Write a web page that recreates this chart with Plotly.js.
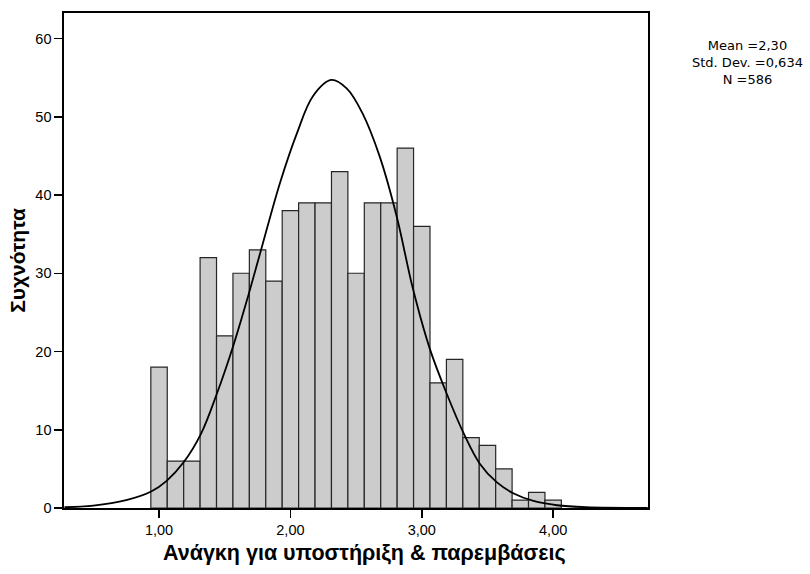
<!DOCTYPE html>
<html>
<head>
<meta charset="utf-8">
<script src="https://cdn.plot.ly/plotly-3.0.1.min.js"></script>
<style>
  html, body { margin: 0; padding: 0; background: #ffffff; }
  #chart { width: 810px; height: 574px; }
</style>
</head>
<body>
<div id="chart"></div>
<script>
// Histogram bins (bin centres, width 0.125) and frequencies
const binCenters = [1.000, 1.125, 1.250, 1.375, 1.500, 1.625, 1.750, 1.875, 2.000, 2.125,
                    2.250, 2.375, 2.500, 2.625, 2.750, 2.875, 3.000, 3.125, 3.250, 3.375,
                    3.500, 3.625, 3.750, 3.875, 4.000];
const frequencies = [18, 6, 6, 32, 22, 30, 33, 29, 38, 39,
                     39, 43, 30, 39, 39, 46, 36, 16, 19, 9,
                     8, 5, 1, 2, 1];
const binWidth = 0.125;

// Normal curve
const curveX = [0.28, 0.50, 0.75, 0.94, 1.06, 1.19, 1.32, 1.44, 1.57, 1.68,
                1.79, 1.92, 2.05, 2.17, 2.31, 2.43, 2.55, 2.68, 2.81, 2.93,
                3.06, 3.19, 3.32, 3.44, 3.57, 3.70, 3.85, 4.03, 4.25, 4.72];
const curveY = [0.1, 0.3, 1.0, 2.1, 3.5, 5.9, 9.5, 14.6, 21.0, 27.2,
                33.8, 41.5, 47.9, 52.6, 54.7, 53.6, 50.4, 44.9, 37.2, 28.2,
                20.4, 14.6, 9.5, 5.7, 3.3, 1.85, 0.9, 0.35, 0.1, 0.0];

// Tick labels
const xTickVals = [1, 2, 3, 4];
const xTickText = ["1,00", "2,00", "3,00", "4,00"];
const yTickVals = [0, 10, 20, 30, 40, 50, 60];
const yTickText = ["0", "10", "20", "30", "40", "50", "60"];

// Texts
const xTitle = "Ανάγκη για υποστήριξη & παρεμβάσεις";
const yTitle = "Συχνότητα";
const statsLines = ["Mean =2,30", "Std. Dev. =0,634", "N =586"];

const tickFont = { family: "Liberation Sans, Arial, sans-serif", size: 14.5, color: "#000000" };

const traces = [
  {
    type: "bar",
    x: binCenters,
    y: frequencies,
    width: binCenters.map(() => binWidth),
    marker: { color: "#cccccc", line: { color: "#262626", width: 1.2 } },
    hoverinfo: "skip",
    showlegend: false
  },
  {
    type: "scatter",
    mode: "lines",
    x: curveX,
    y: curveY,
    line: { color: "#000000", width: 1.8, shape: "spline", smoothing: 1 },
    hoverinfo: "skip",
    showlegend: false
  }
];

const annotations = [
  {
    text: statsLines.join("<br>"),
    xref: "paper", yref: "paper",
    x: 1.171, y: 0.899,
    xanchor: "center", yanchor: "middle", align: "center",
    showarrow: false,
    font: { family: "DejaVu Sans, sans-serif", size: 13, color: "#000000" }
  },
  {
    text: "<b>" + xTitle + "</b>",
    xref: "paper", yref: "paper",
    x: 0.5154, y: -0.0916,
    xanchor: "center", yanchor: "middle",
    showarrow: false,
    font: { family: "Liberation Sans, Arial, sans-serif", size: 21.5, color: "#000000" }
  }
];

const layout = {
  width: 810,
  height: 574,
  margin: { l: 64, r: 162, t: 13, b: 66, pad: 0 },
  paper_bgcolor: "#ffffff",
  plot_bgcolor: "#ffffff",
  showlegend: false,
  bargap: 0,
  xaxis: {
    range: [0.2765, 4.722],
    tickmode: "array",
    tickvals: xTickVals,
    ticktext: xTickText,
    ticks: "outside",
    ticklen: 8,
    tickwidth: 1.5,
    tickcolor: "#000000",
    showline: true,
    linecolor: "#000000",
    linewidth: 1.6,
    mirror: true,
    showgrid: false,
    zeroline: false,
    tickfont: tickFont
  },
  yaxis: {
    range: [0, 63.26],
    tickmode: "array",
    tickvals: yTickVals,
    ticktext: yTickText,
    ticks: "outside",
    ticklen: 8,
    tickwidth: 1.5,
    tickcolor: "#000000",
    showline: true,
    linecolor: "#000000",
    linewidth: 1.6,
    mirror: true,
    showgrid: false,
    zeroline: false,
    tickfont: tickFont,
    title: { text: "<b>" + yTitle + "</b>",
             font: { family: "Liberation Sans, Arial, sans-serif", size: 21, color: "#000000" },
             standoff: 4 }
  },
  annotations: annotations
};

Plotly.newPlot("chart", traces, layout, { staticPlot: true, displayModeBar: false });
</script>
</body>
</html>
